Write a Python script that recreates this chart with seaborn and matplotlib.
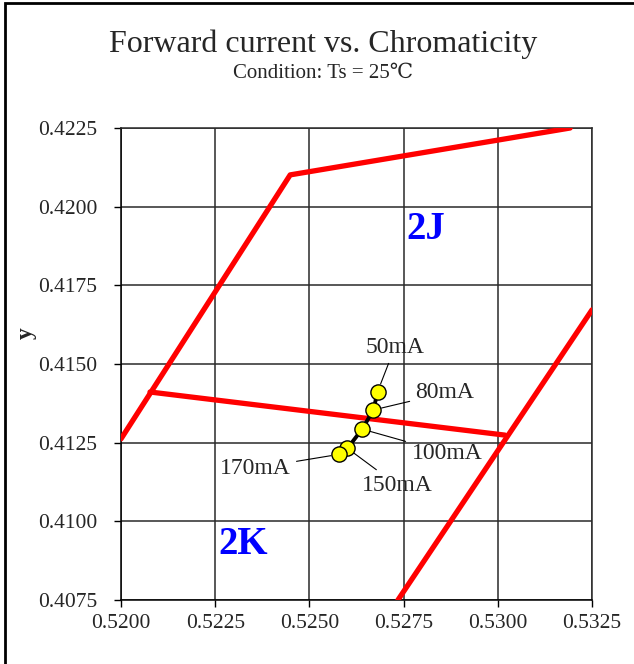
import pandas as pd
import matplotlib.pyplot as plt
import seaborn as sns
from matplotlib.patches import Rectangle
from matplotlib.ticker import FormatStrFormatter

# Chromaticity bin boundary lines (x, y)
left_edge_x = [0.5200, 0.52449, 0.53192]
left_edge_y = [0.41262, 0.42101, 0.42250]
mid_edge_x = [0.52077, 0.53019]
mid_edge_y = [0.41411, 0.41274]
right_edge_x = [0.52735, 0.53250]
right_edge_y = [0.40750, 0.41672]

# Measured chromaticity at each forward current
currents = ["50mA", "80mA", "100mA", "150mA", "170mA"]
cx = [0.52681, 0.52670, 0.52640, 0.52601, 0.52579]
cy = [0.41412, 0.41354, 0.41293, 0.41232, 0.41213]
label_x = [0.52727, 0.52860, 0.52865, 0.52733, 0.52356]
label_y = [0.41554, 0.41408, 0.41217, 0.41115, 0.41169]

x_ticks = [0.5200, 0.5225, 0.5250, 0.5275, 0.5300, 0.5325]
y_ticks = [0.4075, 0.4100, 0.4125, 0.4150, 0.4175, 0.4200, 0.4225]

sns.set_style("white")
plt.rcParams["font.family"] = ["Liberation Serif", "DejaVu Serif"]

fig = plt.figure(figsize=(6.34, 6.64), dpi=100)
ax = fig.add_axes([121 / 634, 64 / 664, 471 / 634, 472 / 664])

# outer frame
fig.patches.append(Rectangle((5 / 634, -0.05), 1.2, 1 - 3 / 664 + 0.05,
                             transform=fig.transFigure, fill=False,
                             edgecolor="black", linewidth=2))

for bx, by in [(left_edge_x, left_edge_y), (mid_edge_x, mid_edge_y),
               (right_edge_x, right_edge_y)]:
    df_b = pd.DataFrame({"x": bx, "y": by})
    sns.lineplot(data=df_b, x="x", y="y", sort=False, estimator=None,
                 color="#ff0000", linewidth=3.8, ax=ax, zorder=3)

df = pd.DataFrame({"x": cx, "y": cy, "current": currents})
sns.lineplot(data=df, x="x", y="y", sort=False, estimator=None,
             color="black", linewidth=2.8, ax=ax, zorder=4)
sns.scatterplot(data=df, x="x", y="y", color="#ffff00", edgecolor="black",
                linewidth=1, s=120, ax=ax, zorder=5)

for lab, px, py, tx, ty in zip(currents, cx, cy, label_x, label_y):
    ax.annotate(lab, xy=(px, py), xytext=(tx, ty), fontsize=17,
                ha="center", va="center", zorder=6,
                arrowprops=dict(arrowstyle="-", color="black", lw=0.8,
                                shrinkA=2, shrinkB=6))

ax.text(0.52809, 0.41926, "2J", color="#0000ff", fontsize=28,
        fontweight="bold", ha="center", va="center")
ax.text(0.52324, 0.40925, "2K", color="#0000ff", fontsize=28,
        fontweight="bold", ha="center", va="center")

ax.set_xlim(0.5200, 0.5325)
ax.set_ylim(0.4075, 0.4225)
ax.set_xticks(x_ticks)
ax.set_yticks(y_ticks)
ax.xaxis.set_major_formatter(FormatStrFormatter("%.4f"))
ax.yaxis.set_major_formatter(FormatStrFormatter("%.4f"))
ax.tick_params(axis="both", direction="out", length=5, width=1,
               color="black", labelsize=15.5, bottom=True, left=True)
ax.tick_params(axis="x", pad=5)
ax.tick_params(axis="y", pad=12)
ax.grid(True, color="#2a2a2a", linewidth=1.1)
for sp in ax.spines.values():
    sp.set_color("#2a2a2a")
    sp.set_linewidth(1.1)
ax.spines["bottom"].set_color("black")
ax.spines["left"].set_color("black")
ax.set_xlabel("")
ax.set_ylabel("y", fontsize=17, fontweight="bold")
ax.yaxis.set_label_coords(-0.178, 0.566)

fig.text(323 / 634, 1 - 44 / 664, "Forward current vs. Chromaticity",
         fontsize=23, ha="center", va="center")
fig.text(323 / 634, 1 - 73 / 664, "Condition: Ts = 25\u2103",
         fontsize=15, ha="center", va="center")

fig.savefig("out.png", dpi=100)
